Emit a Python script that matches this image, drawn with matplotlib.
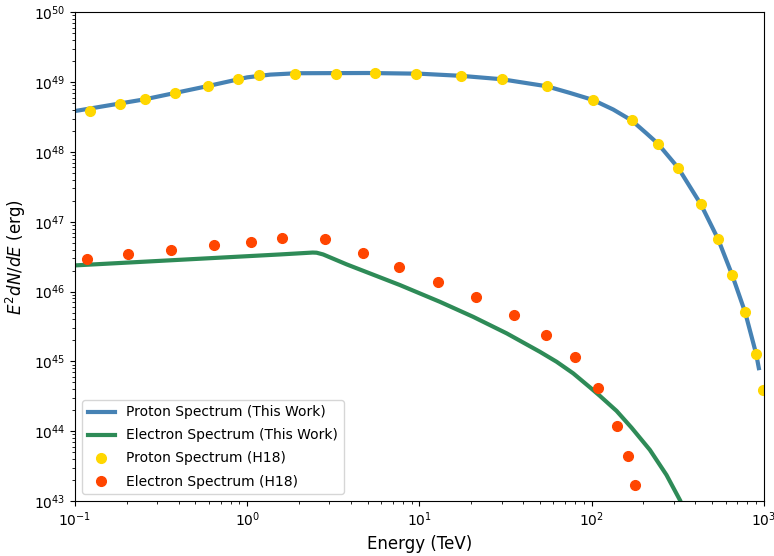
import matplotlib
matplotlib.use("Agg")
import matplotlib.pyplot as plt
from matplotlib.ticker import LogLocator, NullFormatter

# Proton spectrum (this work) - line
proton_line_E = [0.1, 0.256, 0.594, 1.0, 1.36, 1.94, 5.0, 10.0, 17.4, 30.0, 54.7, 74.8,
                 101.6, 133.4, 171.0, 208.4, 242.0, 318.0, 431.0, 543.0, 655.0, 779.0,
                 902.0, 935.0]
proton_line_F = [3.85e48, 5.69e48, 8.8e48, 1.17e49, 1.28e49, 1.34e49, 1.35e49, 1.32e49,
                 1.23e49, 1.10e49, 8.73e48, 7.0e48, 5.56e48, 4.05e48, 2.82e48, 1.84e48,
                 1.32e48, 5.92e47, 1.77e47, 5.6e46, 1.72e46, 5.02e45, 1.28e45, 8.0e44]

# Electron spectrum (this work) - line
electron_line_E = [0.1, 1.55, 2.4, 2.53, 2.76, 3.78, 5.9, 7.7, 13.15, 20.5, 32.1, 50.1,
                   62.6, 78.2, 97.7, 111.7, 139.6, 170.6, 217.8, 272.0, 325.0]
electron_line_F = [2.37e46, 3.40e46, 3.62e46, 3.6e46, 3.40e46, 2.45e46, 1.60e46, 1.24e46,
                   7.13e45, 4.35e45, 2.52e45, 1.37e45, 9.87e44, 6.73e44, 4.25e44, 3.2e44,
                   1.95e44, 1.12e44, 5.4e43, 2.36e43, 1.04e43]

# H18 proton points
proton_h18_E = [0.1217, 0.182, 0.256, 0.381, 0.594, 0.883, 1.17, 1.90, 3.27, 5.54, 9.6,
                17.4, 30.0, 54.7, 101.6, 171.0, 242.0, 318.0, 431.0, 543.0, 655.0,
                779.0, 902.0, 991.0]
proton_h18_F = [3.87e48, 4.82e48, 5.69e48, 7.0e48, 8.8e48, 1.10e49, 1.27e49, 1.31e49,
                1.31e49, 1.34e49, 1.31e49, 1.22e49, 1.10e49, 8.73e48, 5.56e48, 2.82e48,
                1.32e48, 5.92e47, 1.77e47, 5.60e46, 1.72e46, 5.02e45, 1.28e45, 3.85e44]

# H18 electron points
electron_h18_E = [0.117, 0.203, 0.362, 0.638, 1.05, 1.59, 2.83, 4.72, 7.66, 12.9, 21.2,
                  35.2, 54.5, 79.6, 108.7, 139.6, 161.7, 179.0]
electron_h18_F = [2.91e46, 3.44e46, 3.96e46, 4.57e46, 5.15e46, 5.82e46, 5.63e46, 3.56e46,
                  2.28e46, 1.38e46, 8.24e45, 4.55e45, 2.40e45, 1.14e45, 4.11e44, 1.17e44,
                  4.46e43, 1.70e43]

fig = plt.figure(figsize=(7.74, 5.56), dpi=100)
ax = fig.add_axes([0.0969, 0.0989, 0.890, 0.879])

ax.plot(proton_line_E, proton_line_F, color="#4682B4", lw=3,
        solid_joinstyle="round", label="Proton Spectrum (This Work)")
ax.plot(electron_line_E, electron_line_F, color="#2E8B57", lw=3,
        solid_joinstyle="round", label="Electron Spectrum (This Work)")
ax.plot(proton_h18_E, proton_h18_F, "o", color="#FFD700", ms=7, label="Proton Spectrum (H18)")
ax.plot(electron_h18_E, electron_h18_F, "o", color="#FF4500", ms=7, label="Electron Spectrum (H18)")

ax.set_xscale("log")
ax.set_yscale("log")
ax.set_xlim(0.1, 1000)
ax.set_ylim(1e43, 1e50)
ax.yaxis.set_major_locator(LogLocator(base=10, numticks=20))
ax.yaxis.set_minor_locator(LogLocator(base=10, subs=range(2, 10), numticks=100))
ax.yaxis.set_minor_formatter(NullFormatter())
ax.set_xlabel("Energy (TeV)", fontsize=12)
ax.set_ylabel("$E^2 dN/dE$ (erg)", fontsize=12)
ax.tick_params(labelsize=10)
ax.legend(loc="lower left", fontsize=10, labelspacing=0.65)

fig.savefig("out.png", dpi=100)
